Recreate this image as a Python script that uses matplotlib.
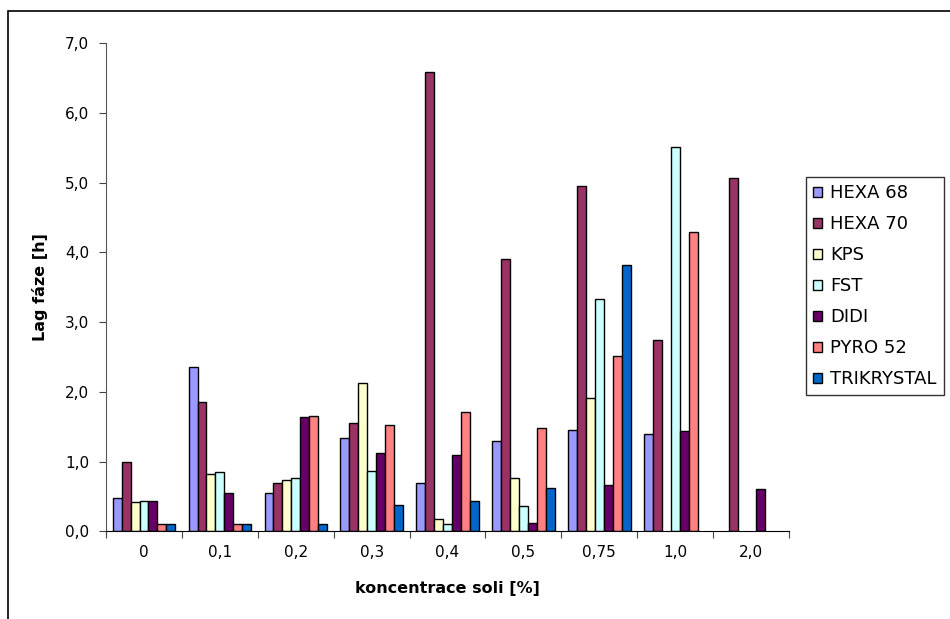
import numpy as np
import matplotlib.pyplot as plt
from matplotlib.patches import Rectangle

plt.rcParams['font.family'] = ['DejaVu Sans']

# data
categories = ['0', '0,1', '0,2', '0,3', '0,4', '0,5', '0,75', '1,0', '2,0']
series = ['HEXA 68', 'HEXA 70', 'KPS', 'FST', 'DIDI', 'PYRO 52', 'TRIKRYSTAL']
hexa68 = [0.48, 2.36, 0.55, 1.34, 0.69, 1.30, 1.45, 1.40, np.nan]
hexa70 = [0.99, 1.85, 0.69, 1.55, 6.58, 3.90, 4.95, 2.75, 5.06]
kps = [0.42, 0.82, 0.74, 2.13, 0.18, 0.77, 1.91, np.nan, np.nan]
fst = [0.43, 0.85, 0.76, 0.87, 0.10, 0.36, 3.33, 5.51, np.nan]
didi = [0.43, 0.55, 1.64, 1.12, 1.10, 0.12, 0.66, 1.44, 0.61]
pyro52 = [0.10, 0.10, 1.66, 1.53, 1.71, 1.49, 2.52, 4.29, np.nan]
trikrystal = [0.10, 0.10, 0.10, 0.38, 0.44, 0.62, 3.82, np.nan, np.nan]

values = [hexa68, hexa70, kps, fst, didi, pyro52, trikrystal]
colors = ['#9999FF', '#993366', '#FFFFCC', '#CCFFFF', '#660066', '#FF8080', '#0066CC']

fig = plt.figure(figsize=(9.5, 6.19), dpi=100)
ax = fig.add_axes([0.1116, 0.1414, 0.719, 0.789])

# outer chart frame (clipped at right and bottom like the original)
fig.patches.append(Rectangle((8 / 950, -0.05), 1.1, 1 - 11 / 619 + 0.05,
                             transform=fig.transFigure, fill=False,
                             edgecolor='black', linewidth=1.2))

n = len(series)
w = 1 / 8.5
x = np.arange(len(categories))
for i, (name, vals, c) in enumerate(zip(series, values, colors)):
    offs = (i - (n - 1) / 2) * w
    ax.bar(x + offs, vals, width=w, color=c, edgecolor='black',
           linewidth=1.0, label=name)

ax.set_xlim(-0.5, len(categories) - 0.5)
ax.set_ylim(0, 7)
yt = np.arange(0, 7.01, 1)
ax.set_yticks(yt)
ax.set_yticklabels([f'{v:.1f}'.replace('.', ',') for v in yt], fontsize=11)

# category labels at centers, tick marks at boundaries
ax.set_xticks(np.arange(-0.5, len(categories), 1))
ax.set_xticklabels([])
ax.set_xticks(x, minor=True)
ax.set_xticklabels(categories, minor=True, fontsize=11)
ax.tick_params(axis='x', which='minor', length=0, pad=10)
ax.tick_params(axis='x', which='major', length=5, direction='out', color='#444444')
ax.tick_params(axis='y', length=5, direction='out', color='#444444', pad=7)

for s in ['top', 'right']:
    ax.spines[s].set_visible(False)
ax.spines['left'].set_color('#555555')
ax.spines['bottom'].set_color('black')

ax.set_xlabel('koncentrace soli [%]', fontsize=11.5, fontweight='bold', labelpad=15)
ax.set_ylabel('Lag fáze [h]', fontsize=11.5, fontweight='bold', labelpad=12)

leg = ax.legend(loc='upper left', bbox_to_anchor=(806 / 950, 1 - 177 / 619),
                bbox_transform=fig.transFigure, frameon=True, fancybox=False,
                edgecolor='black', fontsize=13, handlelength=0.5,
                handleheight=0.5, handletextpad=0.45, labelspacing=0.72,
                borderpad=0.4, borderaxespad=0)
leg.get_frame().set_linewidth(1.0)

plt.savefig('out.png', dpi=100)
